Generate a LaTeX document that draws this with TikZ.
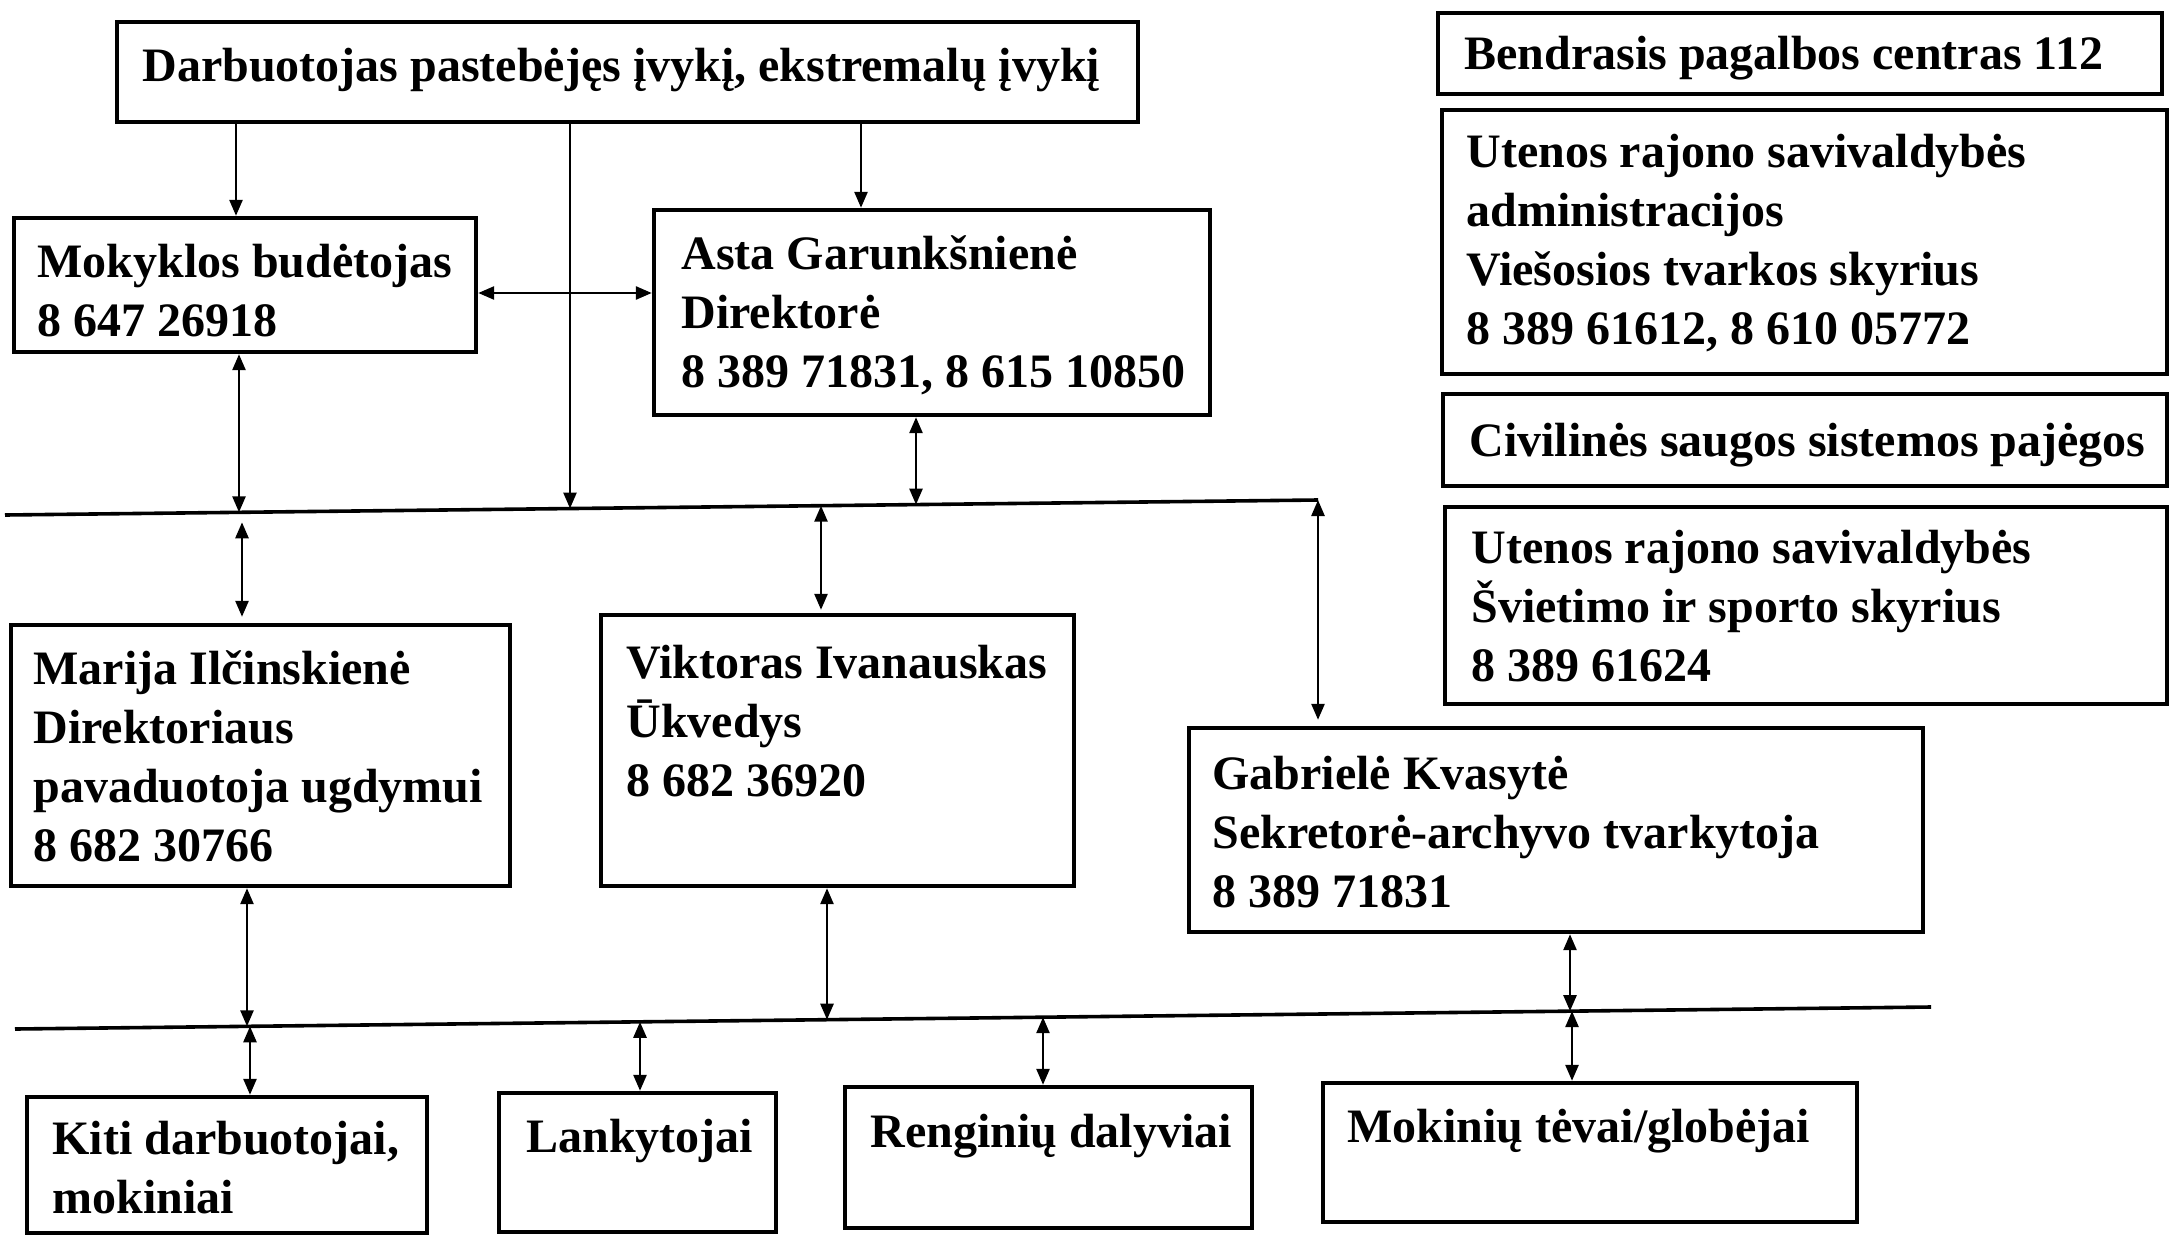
\documentclass[tikz,border=0pt]{standalone}
\usepackage{fontspec}
\setmainfont{Liberation Serif}
\usetikzlibrary{arrows.meta,fit}
\begin{document}
\begin{tikzpicture}[x=0.5pt,y=-0.5pt,
  box/.style={draw,line width=2.2pt,inner sep=0pt,rectangle},
  txt/.style={anchor=base west,inner sep=0pt,align=left,font=\fontsize{24pt}{29.5pt}\selectfont\bfseries},
  conn/.style={line width=1.3pt},
  arr/.style={conn,-{Triangle[length=8pt,width=6.5pt]}},
  darr/.style={conn,{Triangle[length=8pt,width=6.5pt]}-{Triangle[length=8pt,width=6.5pt]}},
  bus/.style={line width=1.8pt}]
\useasboundingbox (0,0) rectangle (2171,1236);
\fill[white] (0,0) rectangle (2171,1236);

% boxes
\node[box,fit={(117,22) (1138,122)}] (dar) {};
\node[box,fit={(14,218) (476,352)}] (mok) {};
\node[box,fit={(654,210) (1210,415)}] (asta) {};
\node[box,fit={(1438,13) (2162,94)}] (bend) {};
\node[box,fit={(1442,110) (2167,374)}] (uten1) {};
\node[box,fit={(1443,394) (2167,486)}] (civ) {};
\node[box,fit={(1445,507) (2167,704)}] (uten2) {};
\node[box,fit={(11,625) (510,886)}] (mar) {};
\node[box,fit={(601,615) (1074,886)}] (vik) {};
\node[box,fit={(1189,728) (1923,932)}] (gab) {};
\node[box,fit={(27,1097) (427,1233)}] (kiti) {};
\node[box,fit={(499,1093) (776,1232)}] (lank) {};
\node[box,fit={(845,1087) (1252,1228)}] (reng) {};
\node[box,fit={(1323,1083) (1857,1222)}] (moki) {};

% texts (anchor = baseline of the last line)
\node[txt] (dar-t) at (142,82) {Darbuotojas pastebėjęs įvykį, ekstremalų įvykį};
\node[txt] (mok-t) at (37,336) {Mokyklos budėtojas\\8 647 26918};
\node[txt] (asta-t) at (681,387) {Asta Garunkšnienė\\Direktorė\\8 389 71831, 8 615 10850};
\node[txt] (bend-t) at (1464,69) {Bendrasis pagalbos centras 112};
\node[txt] (uten1-t) at (1466,344) {Utenos rajono savivaldybės\\administracijos\\Viešosios tvarkos skyrius\\8 389 61612, 8 610 05772};
\node[txt] (civ-t) at (1469,456) {Civilinės saugos sistemos pajėgos};
\node[txt] (uten2-t) at (1471,681) {Utenos rajono savivaldybės\\Švietimo ir sporto skyrius\\8 389 61624};
\node[txt] (mar-t) at (33,861) {Marija Ilčinskienė\\Direktoriaus\\pavaduotoja ugdymui\\8 682 30766};
\node[txt] (vik-t) at (626,796) {Viktoras Ivanauskas\\Ūkvedys\\8 682 36920};
\node[txt] (gab-t) at (1212,907) {Gabrielė Kvasytė\\Sekretorė-archyvo tvarkytoja\\8 389 71831};
\node[txt] (kiti-t) at (52,1213) {Kiti darbuotojai,\\mokiniai};
\node[txt] (lank-t) at (526,1152) {Lankytojai};
\node[txt] (reng-t) at (870,1147) {Renginių dalyviai};
\node[txt] (moki-t) at (1347,1142) {Mokinių tėvai/globėjai};

% bus lines
\coordinate (b1w) at (5,515);
\coordinate (b1e) at (1318,500);
\coordinate (b2w) at (15,1029);
\coordinate (b2e) at (1931,1007);
\draw[bus] (b1w) -- (b1e);
\draw[bus] (b2w) -- (b2e);

% junctions
\coordinate (j1) at (239,512.3);
\coordinate (j2) at (570,508.5);
\coordinate (j3) at (916,504.6);
\coordinate (j4) at (242,512.3);
\coordinate (j5) at (821,505.7);
\coordinate (k1) at (247,1026.3);
\coordinate (k2) at (827,1019.7);
\coordinate (k3) at (1570,1011.1);
\coordinate (k4) at (250,1026.3);
\coordinate (k5) at (640,1021.8);
\coordinate (k6) at (1043,1017.2);
\coordinate (k7) at (1572,1011.1);

% connectors
\draw[arr] (dar.south -| 236,0) -- (mok.north -| 236,0);
\draw[arr] (dar.south -| 861,0) -- (asta.north -| 861,0);
\draw[arr] (dar.south -| j2) -- (j2);
\draw[darr] (mok.east |- 0,293) -- (asta.west |- 0,293);
\draw[darr] (mok.south -| j1) -- (j1);
\draw[darr] (asta.south -| j3) -- (j3);
\draw[darr,shorten <=5pt,shorten >=3pt] (j4) -- (mar.north -| j4);
\draw[darr,shorten >=1.5pt] (j5) -- (vik.north -| j5);
\draw[darr,shorten >=3pt] (b1e) -- (gab.north -| b1e);
\draw[darr] (mar.south -| k1) -- (k1);
\draw[darr] (vik.south -| k2) -- (k2);
\draw[darr] (gab.south -| k3) -- (k3);
\draw[darr] (k4) -- (kiti.north -| k4);
\draw[darr] (k5) -- (lank.north -| k5);
\draw[darr] (k6) -- (reng.north -| k6);
\draw[darr] (k7) -- (moki.north -| k7);
\end{tikzpicture}
\end{document}
